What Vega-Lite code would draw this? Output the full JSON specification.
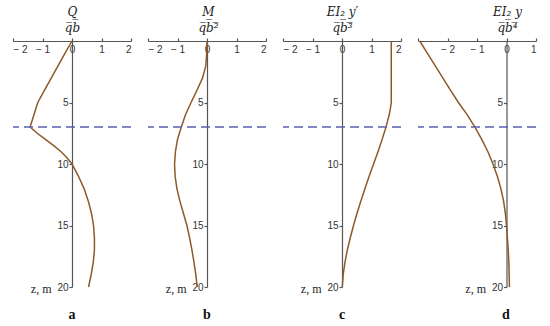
{
  "$schema": "https://vega.github.io/schema/vega-lite/v6.json",
  "background": "white",
  "padding": {"left": 12, "top": 5, "right": 5, "bottom": 5},
  "bounds": "flush",
  "spacing": 17,
  "config": {
    "view": {"stroke": null},
    "axis": {"grid": false, "domainColor": "#555", "domainWidth": 1.2, "tickColor": "#555", "tickWidth": 1.2, "labelFont": "Liberation Sans", "labelFontSize": 10, "labelColor": "#333", "titleFont": "DejaVu Serif", "titleFontStyle": "italic", "titleFontWeight": "normal", "titleColor": "#222"},
    "title": {"font": "Liberation Serif", "fontWeight": "bold", "fontSize": 14, "color": "#111"}
  },
  "datasets": {
    "dash": [{"z": 7}],
    "a": [
      {"z": 0, "v": 0}, {"z": 1, "v": -0.24}, {"z": 2, "v": -0.47}, {"z": 3, "v": -0.7}, {"z": 4, "v": -0.93}, {"z": 5, "v": -1.16}, {"z": 6, "v": -1.29}, {"z": 7, "v": -1.42},
      {"z": 7.5, "v": -1.18}, {"z": 8, "v": -0.9}, {"z": 8.5, "v": -0.62}, {"z": 9, "v": -0.37}, {"z": 9.5, "v": -0.17}, {"z": 10, "v": 0},
      {"z": 11, "v": 0.22}, {"z": 12, "v": 0.41}, {"z": 13, "v": 0.55}, {"z": 14, "v": 0.66}, {"z": 15, "v": 0.73}, {"z": 16, "v": 0.76}, {"z": 17, "v": 0.76}, {"z": 18, "v": 0.72}, {"z": 19, "v": 0.65}, {"z": 20, "v": 0.56}
    ],
    "b": [
      {"z": 0, "v": 0}, {"z": 1, "v": -0.01}, {"z": 2, "v": -0.04}, {"z": 3, "v": -0.15}, {"z": 4, "v": -0.34}, {"z": 5, "v": -0.54}, {"z": 6, "v": -0.73}, {"z": 7, "v": -0.87}, {"z": 8, "v": -1.0}, {"z": 9, "v": -1.07}, {"z": 10, "v": -1.1},
      {"z": 11, "v": -1.08}, {"z": 12, "v": -1.02}, {"z": 13, "v": -0.92}, {"z": 14, "v": -0.8}, {"z": 15, "v": -0.68}, {"z": 16, "v": -0.59}, {"z": 17, "v": -0.51}, {"z": 18, "v": -0.44}, {"z": 19, "v": -0.38}, {"z": 20, "v": -0.33}
    ],
    "c": [
      {"z": 0, "v": 1.67}, {"z": 5, "v": 1.67}, {"z": 5.5, "v": 1.64}, {"z": 6, "v": 1.6}, {"z": 7, "v": 1.49}, {"z": 8, "v": 1.36}, {"z": 9, "v": 1.22}, {"z": 10, "v": 1.07},
      {"z": 11, "v": 0.92}, {"z": 12, "v": 0.78}, {"z": 13, "v": 0.64}, {"z": 14, "v": 0.51}, {"z": 15, "v": 0.39}, {"z": 16, "v": 0.28}, {"z": 17, "v": 0.18}, {"z": 18, "v": 0.1}, {"z": 19, "v": 0.04}, {"z": 20, "v": 0.01}
    ],
    "d": [
      {"z": 0, "v": -2.94}, {"z": 1, "v": -2.68}, {"z": 2, "v": -2.42}, {"z": 3, "v": -2.16}, {"z": 4, "v": -1.9}, {"z": 5, "v": -1.63}, {"z": 6, "v": -1.33}, {"z": 7, "v": -1.07}, {"z": 8, "v": -0.84}, {"z": 9, "v": -0.63}, {"z": 10, "v": -0.46},
      {"z": 11, "v": -0.31}, {"z": 12, "v": -0.19}, {"z": 13, "v": -0.1}, {"z": 14, "v": -0.04}, {"z": 15, "v": 0}, {"z": 16, "v": 0.03}, {"z": 17, "v": 0.06}, {"z": 18, "v": 0.08}, {"z": 19, "v": 0.09}, {"z": 20, "v": 0.1}
    ]
  },
  "hconcat": [
    {
      "width": 118, "height": 246,
      "title": {"text": "a", "orient": "bottom", "offset": 14},
      "encoding": {
        "y": {"field": "z", "type": "quantitative", "scale": {"domain": [0, 20], "reverse": true, "nice": false},
          "axis": {"orient": "left", "offset": -59, "values": [5, 10, 15, 20], "tickSize": 3, "labelPadding": 1, "title": "z, m", "titleFont": "Liberation Serif", "titleFontStyle": "normal", "titleFontSize": 12, "titleAngle": 0, "titleAlign": "right", "titleBaseline": "middle", "titleX": -21, "titleY": 247}}
      },
      "layer": [
        {
          "data": {"name": "a"},
          "mark": {"type": "line", "color": "#8b5a2b", "strokeWidth": 1.5},
          "encoding": {
            "x": {"field": "v", "type": "quantitative", "scale": {"domain": [-2, 2], "nice": false, "zero": false},
              "axis": {"orient": "top", "values": [-2, -1, 0, 1, 2], "labelExpr": "datum.value < 0 ? '− ' + abs(datum.value) : datum.value", "tickSize": 3, "labelBaseline": "top", "labelPadding": -6, "title": ["Q", "q̅b̅"], "titleFontSize": 12, "titleLineHeight": 16, "titleBaseline": "alphabetic", "titleY": -26, "titleX": 59}},
            "order": {"field": "z"}
          }
        },
        {
          "data": {"name": "dash"},
          "mark": {"type": "rule", "color": "#5a60b0", "strokeDash": [9, 5], "strokeWidth": 1.5},
          "encoding": {}
        }
      ]
    },
    {
      "width": 118, "height": 246,
      "title": {"text": "b", "orient": "bottom", "offset": 14},
      "encoding": {
        "y": {"field": "z", "type": "quantitative", "scale": {"domain": [0, 20], "reverse": true, "nice": false},
          "axis": {"orient": "left", "offset": -59, "values": [5, 10, 15, 20], "tickSize": 3, "labelPadding": 1, "title": "z, m", "titleFont": "Liberation Serif", "titleFontStyle": "normal", "titleFontSize": 12, "titleAngle": 0, "titleAlign": "right", "titleBaseline": "middle", "titleX": -21, "titleY": 247}}
      },
      "layer": [
        {
          "data": {"name": "b"},
          "mark": {"type": "line", "color": "#8b5a2b", "strokeWidth": 1.5},
          "encoding": {
            "x": {"field": "v", "type": "quantitative", "scale": {"domain": [-2, 2], "nice": false, "zero": false},
              "axis": {"orient": "top", "values": [-2, -1, 0, 1, 2], "labelExpr": "datum.value < 0 ? '− ' + abs(datum.value) : datum.value", "tickSize": 3, "labelBaseline": "top", "labelPadding": -6, "title": ["M", "q̅b̅²̅"], "titleFontSize": 12, "titleLineHeight": 16, "titleBaseline": "alphabetic", "titleY": -26, "titleX": 60}},
            "order": {"field": "z"}
          }
        },
        {
          "data": {"name": "dash"},
          "mark": {"type": "rule", "color": "#5a60b0", "strokeDash": [9, 5], "strokeWidth": 1.5},
          "encoding": {}
        }
      ]
    },
    {
      "width": 118, "height": 246,
      "title": {"text": "c", "orient": "bottom", "offset": 14},
      "encoding": {
        "y": {"field": "z", "type": "quantitative", "scale": {"domain": [0, 20], "reverse": true, "nice": false},
          "axis": {"orient": "left", "offset": -59, "values": [5, 10, 15, 20], "tickSize": 3, "labelPadding": 1, "title": "z, m", "titleFont": "Liberation Serif", "titleFontStyle": "normal", "titleFontSize": 12, "titleAngle": 0, "titleAlign": "right", "titleBaseline": "middle", "titleX": -21, "titleY": 247}}
      },
      "layer": [
        {
          "data": {"name": "c"},
          "mark": {"type": "line", "color": "#8b5a2b", "strokeWidth": 1.5},
          "encoding": {
            "x": {"field": "v", "type": "quantitative", "scale": {"domain": [-2, 2], "nice": false, "zero": false},
              "axis": {"orient": "top", "values": [-2, -1, 0, 1, 2], "labelExpr": "datum.value < 0 ? '− ' + abs(datum.value) : datum.value", "tickSize": 3, "labelBaseline": "top", "labelPadding": -6, "title": ["      EI₂ y′", "q̅b̅³̅"], "titleFontSize": 12, "titleLineHeight": 16, "titleBaseline": "alphabetic", "titleY": -26, "titleX": 59}},
            "order": {"field": "z"}
          }
        },
        {
          "data": {"name": "dash"},
          "mark": {"type": "rule", "color": "#5a60b0", "strokeDash": [9, 5], "strokeWidth": 1.5},
          "encoding": {}
        }
      ]
    },
    {
      "width": 118, "height": 246,
      "title": {"text": "d", "orient": "bottom", "offset": 14, "dx": 29},
      "encoding": {
        "y": {"field": "z", "type": "quantitative", "scale": {"domain": [0, 20], "reverse": true, "nice": false},
          "axis": {"orient": "left", "offset": -88.5, "values": [5, 10, 15, 20], "tickSize": 3, "labelPadding": 1, "title": "z, m", "titleFont": "Liberation Serif", "titleFontStyle": "normal", "titleFontSize": 12, "titleAngle": 0, "titleAlign": "right", "titleBaseline": "middle", "titleX": -21, "titleY": 247}}
      },
      "layer": [
        {
          "data": {"name": "d"},
          "mark": {"type": "line", "color": "#8b5a2b", "strokeWidth": 1.5},
          "encoding": {
            "x": {"field": "v", "type": "quantitative", "scale": {"domain": [-3, 1], "nice": false, "zero": false},
              "axis": {"orient": "top", "values": [-3, -2, -1, 0, 1], "labelExpr": "datum.value == -3 ? '' : datum.value < 0 ? '− ' + abs(datum.value) : datum.value", "tickSize": 3, "labelBaseline": "top", "labelPadding": -6, "title": ["     EI₂ y", "q̅b̅⁴̅"], "titleFontSize": 12, "titleLineHeight": 16, "titleBaseline": "alphabetic", "titleY": -26, "titleX": 89}},
            "order": {"field": "z"}
          }
        },
        {
          "data": {"name": "dash"},
          "mark": {"type": "rule", "color": "#5a60b0", "strokeDash": [9, 5], "strokeWidth": 1.5},
          "encoding": {}
        }
      ]
    }
  ]
}
